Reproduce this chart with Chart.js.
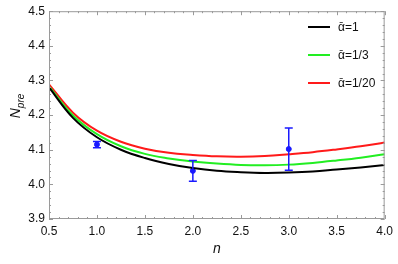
<!DOCTYPE html>
<html>
<head>
<meta charset="utf-8">
<script src="https://cdn.jsdelivr.net/npm/chart.js@4.4.1/dist/chart.umd.min.js"></script>
<style>
  html, body { margin: 0; padding: 0; background: #fff; }
  #wrap { width: 398px; height: 264px; }
</style>
</head>
<body>
<div id="wrap"><canvas id="myChart"></canvas></div>
<script>
// curves sampled along n
const nValues = [0.5, 0.75, 1.0, 1.25, 1.5, 1.75, 2.0, 2.25, 2.5, 2.75, 3.0, 3.25, 3.5, 3.75, 4.0];
const alpha1 = [4.280, 4.192, 4.136, 4.100, 4.076, 4.059, 4.047, 4.039, 4.035, 4.033, 4.034, 4.037, 4.043, 4.049, 4.056];
const alpha3 = [4.283, 4.199, 4.145, 4.110, 4.088, 4.075, 4.066, 4.060, 4.056, 4.055, 4.057, 4.062, 4.069, 4.077, 4.087];
const alpha20 = [4.289, 4.207, 4.155, 4.123, 4.103, 4.091, 4.085, 4.081, 4.080, 4.082, 4.087, 4.093, 4.101, 4.110, 4.121];
const seriesLabels = ['\u1FB1=1', '\u1FB1=1/3', '\u1FB1=1/20'];

// data points with error bars
const obsN = [1, 2, 3];
const obsValue = [4.115, 4.039, 4.102];
const obsErr = [0.009, 0.030, 0.061];

const xTicks = [0.5, 1.0, 1.5, 2.0, 2.5, 3.0, 3.5, 4.0];
const yTicks = [3.9, 4.0, 4.1, 4.2, 4.3, 4.4, 4.5];

const toPts = (xs, ys) => xs.map((x, i) => ({ x: x, y: ys[i] }));

const frameColor = '#9a9a9a';

// frame, inward ticks, error bars, legend, y title
const decor = {
  id: 'decor',
  afterDatasetsDraw(chart) {
    const c = chart.ctx;
    const a = chart.chartArea;
    const xs = chart.scales.x, ys = chart.scales.y;
    c.save();
    // error bars
    c.strokeStyle = '#1a1aff';
    c.lineWidth = 1.5;
    obsN.forEach((n, i) => {
      const px = xs.getPixelForValue(n);
      const top = ys.getPixelForValue(obsValue[i] + obsErr[i]);
      const bot = ys.getPixelForValue(obsValue[i] - obsErr[i]);
      c.beginPath();
      c.moveTo(px, top); c.lineTo(px, bot);
      c.moveTo(px - 4, top); c.lineTo(px + 4, top);
      c.moveTo(px - 4, bot); c.lineTo(px + 4, bot);
      c.stroke();
    });
    // frame
    c.strokeStyle = frameColor;
    c.lineWidth = 1;
    c.strokeRect(a.left + 0.5, a.top + 0.5, a.right - a.left - 1, a.bottom - a.top - 1);
    c.beginPath();
    for (let k = 0; k <= 35; k++) {
      const v = 0.5 + k * 0.1;
      const px = Math.round(xs.getPixelForValue(v)) + 0.5;
      const len = k % 5 === 0 ? 4 : 2;
      c.moveTo(px, a.bottom); c.lineTo(px, a.bottom - len);
      c.moveTo(px, a.top); c.lineTo(px, a.top + len);
    }
    for (let k = 0; k <= 30; k++) {
      const v = 3.9 + k * 0.02;
      const py = Math.round(ys.getPixelForValue(v)) + 0.5;
      const len = k % 5 === 0 ? 4 : 2;
      c.moveTo(a.left, py); c.lineTo(a.left + len, py);
      c.moveTo(a.right, py); c.lineTo(a.right - len, py);
    }
    c.stroke();
    // legend
    const lx = 308, ly = [27, 55, 83];
    c.font = '12px "Liberation Sans", Arial, sans-serif';
    c.textBaseline = 'middle';
    c.textAlign = 'left';
    chart.data.datasets.slice(0, 3).forEach((ds, i) => {
      c.strokeStyle = ds.borderColor;
      c.lineWidth = 2;
      c.beginPath();
      c.moveTo(lx, ly[i]); c.lineTo(lx + 22, ly[i]);
      c.stroke();
      c.fillStyle = '#111';
      c.fillText(ds.label, lx + 30, ly[i] + 1);
    });
    // y title N_pre
    c.translate(20, 106);
    c.rotate(-Math.PI / 2);
    c.textBaseline = 'alphabetic';
    c.fillStyle = '#111';
    c.font = 'italic 14px "Liberation Sans", Arial, sans-serif';
    const nw = c.measureText('N').width;
    const subFont = 'italic 10px "Liberation Sans", Arial, sans-serif';
    c.font = subFont;
    const sw = c.measureText('pre').width;
    const x0 = -(nw + sw) / 2;
    c.font = 'italic 14px "Liberation Sans", Arial, sans-serif';
    c.fillText('N', x0, 0);
    c.font = subFont;
    c.fillText('pre', x0 + nw, 4);
    c.restore();
  }
};

const tickFont = { family: '"Liberation Sans", Arial, sans-serif', size: 12 };

new Chart(document.getElementById('myChart'), {
  type: 'line',
  data: {
    datasets: [{
      label: seriesLabels[0],
      data: toPts(nValues, alpha1),
      borderColor: '#000000',
      borderWidth: 2,
      pointRadius: 0,
      tension: 0.4
    }, {
      label: seriesLabels[1],
      data: toPts(nValues, alpha3),
      borderColor: '#22ee22',
      borderWidth: 2,
      pointRadius: 0,
      tension: 0.4
    }, {
      label: seriesLabels[2],
      data: toPts(nValues, alpha20),
      borderColor: '#ff1a1a',
      borderWidth: 2,
      pointRadius: 0,
      tension: 0.4
    }, {
      type: 'scatter',
      label: 'data',
      data: toPts(obsN, obsValue),
      backgroundColor: '#1a1aff',
      borderColor: '#1a1aff',
      pointRadius: 2.5
    }]
  },
  options: {
    responsive: true,
    maintainAspectRatio: false,
    animation: false,
    layout: { padding: { top: 9, right: 10, left: 0, bottom: 0 } },
    plugins: {
      legend: { display: false },
      tooltip: { enabled: false }
    },
    scales: {
      x: {
        type: 'linear',
        min: 0.5,
        max: 4.0,
        afterBuildTicks: s => { s.ticks = xTicks.map(v => ({ value: v })); },
        afterFit: s => { s.height = 45; },
        grid: { display: false, drawTicks: false },
        border: { display: false },
        ticks: {
          color: '#111',
          font: tickFont,
          padding: 5,
          maxRotation: 0,
          callback: v => v.toFixed(1)
        },
        title: {
          display: true,
          text: 'n',
          color: '#111',
          font: { family: '"Liberation Sans", Arial, sans-serif', size: 14, style: 'italic' },
          padding: { top: 0, bottom: 6 }
        }
      },
      y: {
        min: 3.9,
        max: 4.5,
        afterBuildTicks: s => { s.ticks = yTicks.map(v => ({ value: v })); },
        afterFit: s => { s.width = 49; },
        grid: { display: false, drawTicks: false },
        border: { display: false },
        ticks: {
          color: '#111',
          font: tickFont,
          padding: 4,
          callback: v => v.toFixed(1)
        }
      }
    }
  },
  plugins: [decor]
});
</script>
</body>
</html>
